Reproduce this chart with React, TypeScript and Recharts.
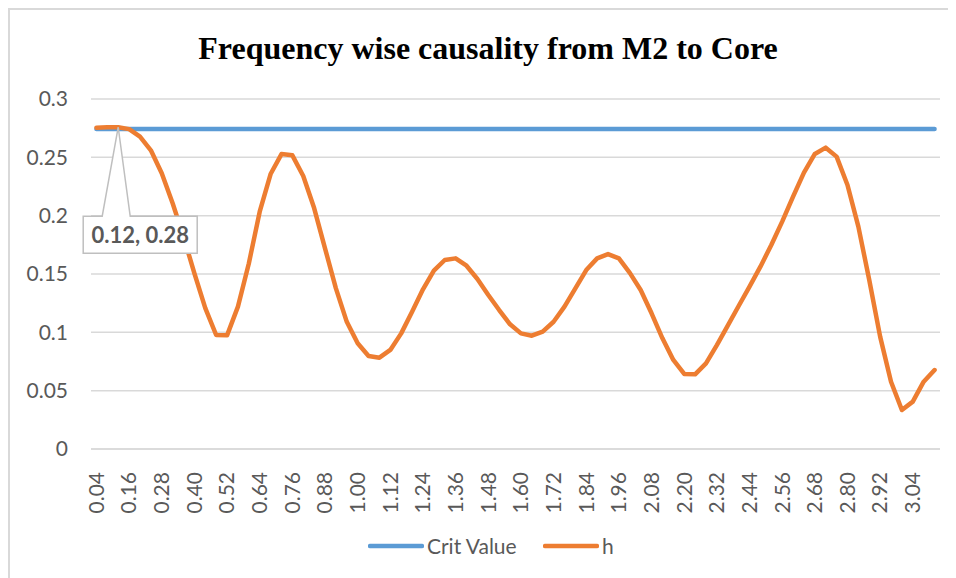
import React from "react";
import { LineChart, Line, XAxis, YAxis, CartesianGrid, Legend } from "recharts";

// frequency grid (x axis categories)
const frequencies = [
  "0.04", "0.08", "0.12", "0.16", "0.20", "0.24", "0.28", "0.32", "0.36", "0.40",
  "0.44", "0.48", "0.52", "0.56", "0.60", "0.64", "0.68", "0.72", "0.76", "0.80",
  "0.84", "0.88", "0.92", "0.96", "1.00", "1.04", "1.08", "1.12", "1.16", "1.20",
  "1.24", "1.28", "1.32", "1.36", "1.40", "1.44", "1.48", "1.52", "1.56", "1.60",
  "1.64", "1.68", "1.72", "1.76", "1.80", "1.84", "1.88", "1.92", "1.96", "2.00",
  "2.04", "2.08", "2.12", "2.16", "2.20", "2.24", "2.28", "2.32", "2.36", "2.40",
  "2.44", "2.48", "2.52", "2.56", "2.60", "2.64", "2.68", "2.72", "2.76", "2.80",
  "2.84", "2.88", "2.92", "2.96", "3.00", "3.04", "3.08", "3.12",
];

// causality measure h
const hValues = [
  0.2754, 0.2757, 0.2758, 0.2742, 0.2677, 0.256, 0.2363, 0.2106, 0.182, 0.1506,
  0.1208, 0.0977, 0.0974, 0.122, 0.159, 0.2034, 0.2357, 0.2528, 0.2517, 0.234,
  0.2065, 0.172, 0.1377, 0.109, 0.0906, 0.0797, 0.0783, 0.0849, 0.0991, 0.1177,
  0.1369, 0.1529, 0.162, 0.1634, 0.1571, 0.1457, 0.132, 0.1191, 0.1069, 0.0991,
  0.0971, 0.1006, 0.1091, 0.122, 0.1377, 0.1534, 0.1634, 0.1671, 0.1634, 0.151,
  0.1363, 0.1163, 0.0949, 0.0763, 0.0643, 0.064, 0.0734, 0.0891, 0.1057, 0.1226,
  0.1391, 0.1563, 0.1749, 0.1949, 0.2163, 0.2369, 0.2529, 0.2583, 0.2506, 0.2263,
  0.1906, 0.1449, 0.0963, 0.0577, 0.0334, 0.0406, 0.0577, 0.0677,
];

const CRIT_VALUE = 0.2743;

const yTicks = [0, 0.05, 0.1, 0.15, 0.2, 0.25, 0.3];

const data = frequencies.map((f, i) => ({ freq: f, crit: CRIT_VALUE, h: hValues[i] }));

const BLUE = "#5b9bd5";
const ORANGE = "#ed7d31";
const GREY_TEXT = "#595959";
const FONT = "Lato, 'Open Sans', sans-serif";

const XTick = (props: any) => {
  const { x, y, payload } = props;
  return (
    <text
      x={x}
      y={y}
      transform={`rotate(-90, ${x}, ${y})`}
      textAnchor="end"
      dy="0.35em"
      fill={GREY_TEXT}
      fontSize={21}
      fontFamily={FONT}
    >
      {payload.value}
    </text>
  );
};

// data callout on the peak point
const Callout = (props: any) => {
  const { x, y, index } = props;
  if (index !== 2) return null;
  const left = x - 35;
  const right = x + 79;
  const top = y + 89;
  const bottom = y + 126;
  const d = `M${x},${y} L${x + 12},${top} L${right},${top} L${right},${bottom} L${left},${bottom} L${left},${top} L${x - 16},${top} Z`;
  return (
    <g>
      <path d={d} fill="#fff" stroke="#bfbfbf" strokeWidth={1.5} />
      <text
        x={(left + right) / 2}
        y={bottom - 10}
        textAnchor="middle"
        fill={GREY_TEXT}
        fontSize={22}
        fontWeight="bold"
        fontFamily={FONT}
      >
        0.12, 0.28
      </text>
    </g>
  );
};

const renderLegend = () => {
  const item = (color: string, label: string, left: number) => (
    <div style={{ position: "absolute", left, top: 16, height: 24, display: "flex", alignItems: "center" }}>
      <svg width={56} height={24}>
        <line x1={2} y1={12} x2={54} y2={12} stroke={color} strokeWidth={4.5} strokeLinecap="round" />
      </svg>
      <span style={{ marginLeft: 3, fontSize: 21, color: GREY_TEXT, fontFamily: FONT, lineHeight: "24px" }}>{label}</span>
    </div>
  );
  return (
    <div style={{ position: "relative", height: 60 }}>
      {item(BLUE, "Crit Value", 358)}
      {item(ORANGE, "h", 533)}
    </div>
  );
};

export default function App() {
  return (
    <div
      style={{
        position: "relative",
        width: 948,
        height: 570,
        borderTop: "2px solid #d9d9d9",
        borderLeft: "2px solid #d9d9d9",
        boxSizing: "border-box",
        background: "#fff",
      }}
    >
      <div
        style={{
          position: "absolute",
          left: 0,
          top: 22,
          width: 956,
          textAlign: "center",
          fontFamily: "'Liberation Serif', 'Times New Roman', serif",
          fontWeight: "bold",
          fontSize: 32,
          lineHeight: "32px",
          color: "#000",
          zIndex: 1,
        }}
      >
        Frequency wise causality from M2 to Core
      </div>
      <LineChart width={946} height={568} data={data} margin={{ top: 89, right: 16, left: 0, bottom: 0 }}>
        <CartesianGrid vertical={false} stroke="#d9d9d9" strokeWidth={1.5} />
        <XAxis
          dataKey="freq"
          interval={2}
          height={69}
          tickLine={false}
          axisLine={{ stroke: "#d9d9d9", strokeWidth: 1.5 }}
          tick={<XTick />}
          tickMargin={17}
          padding={{ left: 5.44, right: 5.44 }}
        />
        <YAxis
          width={81}
          domain={[0, 0.3]}
          ticks={yTicks}
          tickLine={false}
          axisLine={false}
          tickSize={0}
          tickMargin={23}
          tick={{ fill: GREY_TEXT, fontSize: 21, fontFamily: FONT }}
        />
        <Legend verticalAlign="bottom" height={60} content={renderLegend} />
        <Line
          type="linear"
          dataKey="crit"
          name="Crit Value"
          stroke={BLUE}
          strokeWidth={4.5}
          strokeLinecap="round"
          dot={false}
          activeDot={false}
          isAnimationActive={false}
        />
        <Line
          type="linear"
          dataKey="h"
          name="h"
          stroke={ORANGE}
          strokeWidth={4.5}
          strokeLinecap="round"
          strokeLinejoin="round"
          dot={false}
          activeDot={false}
          label={<Callout />}
          isAnimationActive={false}
        />
      </LineChart>
    </div>
  );
}
